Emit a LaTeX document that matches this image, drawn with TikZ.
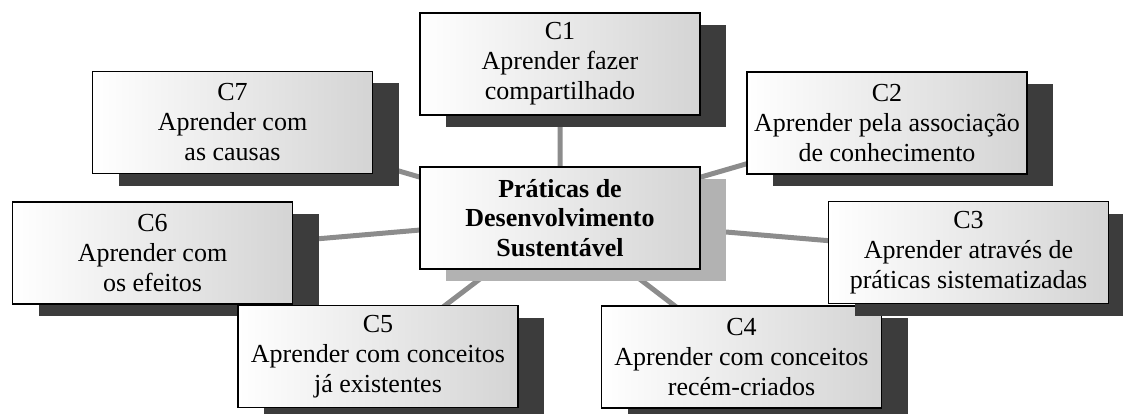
\documentclass[tikz,border=0pt]{standalone}
\usepackage{fontspec}
\setmainfont{Liberation Serif}
\usetikzlibrary{shadows,backgrounds}
\definecolor{linegray}{RGB}{140,140,140}
\definecolor{shadowdark}{RGB}{60,60,60}
\definecolor{shadowlight}{RGB}{178,178,178}
\definecolor{boxgray}{RGB}{212,212,212}
\definecolor{boxmid}{RGB}{246,246,246}
\begin{document}
\begin{tikzpicture}[x=1pt,y=-1pt]
	\tikzstyle{every node}=[draw, line width=1.1pt, left color=white, middle color=boxmid, right color=boxgray, minimum width=280pt, minimum height=102pt, inner sep=0pt, align=center, font=\fontsize{26}{30}\selectfont]
	\tikzstyle{darkshadow}=[general shadow={fill=shadowdark, shadow xshift=26pt, shadow yshift=-12pt}]
	\tikzstyle{lightshadow}=[general shadow={fill=shadowlight, shadow xshift=26pt, shadow yshift=-12pt}]
	\useasboundingbox (0,0) rectangle (1123,414);
	\path (560,218) node[lightshadow, font=\fontsize{26}{29.5}\selectfont\bfseries] (pds) {Práticas de\\Desenvolvimento\\Sustentável}
	      (232.5,122.5) node[darkshadow] (c7) {C7\\Aprender com\\as causas}
	      (560,64) node[darkshadow] (c1) {C1\\Aprender fazer\\compartilhado}
	      (887,123) node[darkshadow] (c2) {C2\\Aprender pela associação\\de conhecimento}
	      (152.5,253) node[darkshadow] (c6) {C6\\Aprender com\\os efeitos}
	      (741.5,357) node[darkshadow] (c4) {C4\\Aprender com conceitos\\recém-criados}
	      (968.5,252.5) node[darkshadow] (c3) {C3\\Aprender através de\\práticas sistematizadas}
	      (378,356.5) node[darkshadow] (c5) {C5\\Aprender com conceitos\\já existentes};
	\begin{pgfonlayer}{background}
	\draw[linegray, line width=5pt] (pds.center) -- (c1.center)
	      (pds.center) -- (c2.center)
	      (pds.center) -- (c3.center)
	      (pds.center) -- (c4.center)
	      (pds.center) -- (c5.center)
	      (pds.center) -- (c6.center)
	      (pds.center) -- (c7.center);
	\end{pgfonlayer}
\end{tikzpicture}
\end{document}
